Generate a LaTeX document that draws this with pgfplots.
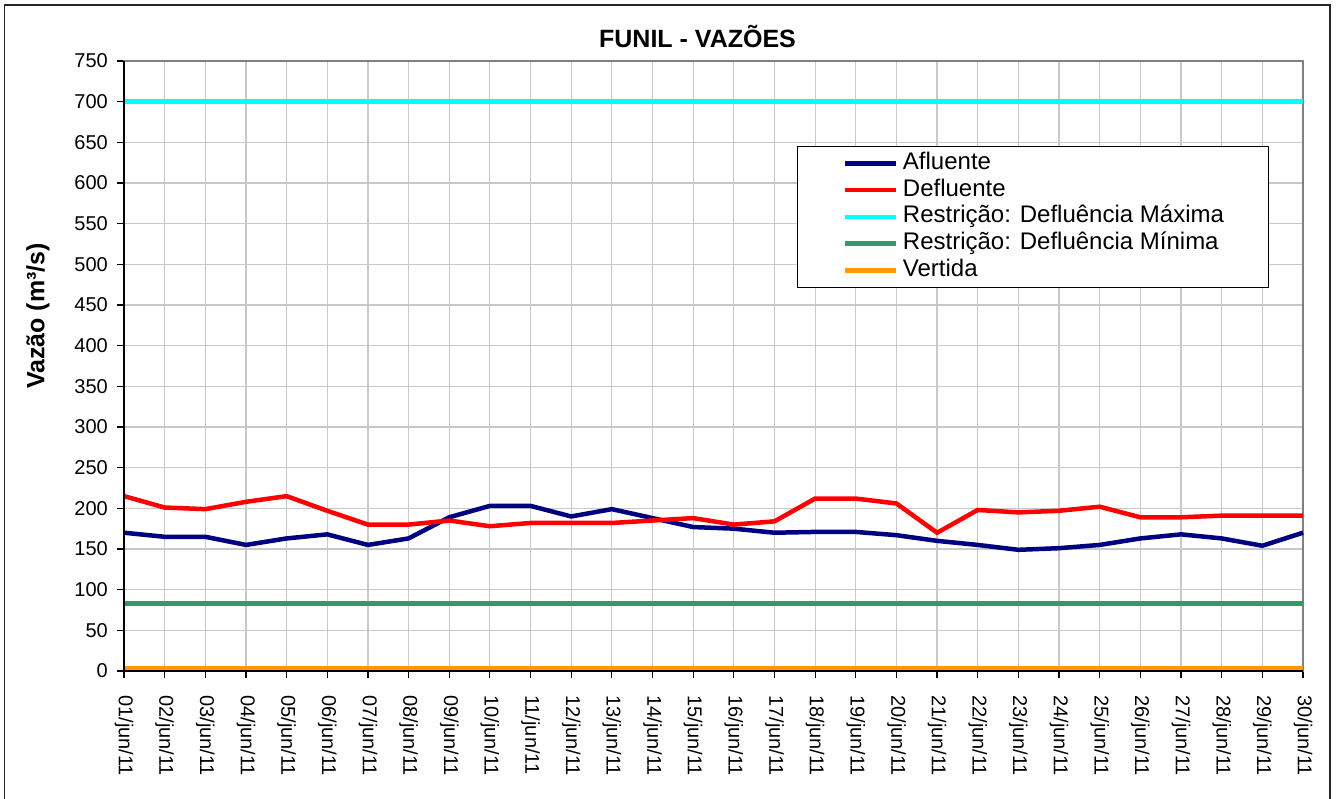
\documentclass[border=0pt]{standalone}
\usepackage{pgfplots}
\pgfplotsset{compat=1.18}
\usepackage{pgfplotstable}
\usepackage{fontspec}
\setmainfont{Liberation Sans}
\definecolor{afl}{HTML}{000080}
\definecolor{defl}{HTML}{FF0000}
\definecolor{rmax}{HTML}{00FFFF}
\definecolor{rmin}{HTML}{339966}
\definecolor{vert}{HTML}{FF9900}
\definecolor{gridc}{HTML}{C8C8C8}

\pgfplotstableread{
d afl def
1 170 215
2 165 201
3 165 199
4 155 208
5 163 215
6 168 197
7 155 180
8 163 180
9 189 185
10 203 178
11 203 182
12 190 182
13 199 182
14 188 185
15 177 188
16 175 180
17 170 184
18 171 212
19 171 212
20 167 206
21 160 170
22 155 198
23 149 195
24 151 197
25 155 202
26 163 189
27 168 189
28 163 191
29 154 191
30 170 191
}\flowdata

\begin{document}
\begin{tikzpicture}
\useasboundingbox (0pt,0pt) rectangle (1338pt,798pt);
\begin{scope}
\clip (0pt,0pt) rectangle (1338pt,798pt);
\draw[line width=1.5pt, black!85] (4.5pt,-20pt) rectangle (1330pt,793pt);
\end{scope}
\node[font=\bfseries\fontsize{25}{25}\selectfont] at (697.5pt,761.5pt) {FUNIL - VAZÕES};
\node[rotate=90, font=\bfseries\fontsize{25}{25}\selectfont] at (38pt,482pt) {Vazão (m³/s)};
\begin{axis}[
  at={(124pt,127pt)}, anchor=south west,
  scale only axis, width=1179pt, height=610pt,
  xmin=1, xmax=30, ymin=0, ymax=750,
  xtick={1,...,30},
  xticklabels={01/jun/11,02/jun/11,03/jun/11,04/jun/11,05/jun/11,06/jun/11,07/jun/11,08/jun/11,09/jun/11,10/jun/11,11/jun/11,12/jun/11,13/jun/11,14/jun/11,15/jun/11,16/jun/11,17/jun/11,18/jun/11,19/jun/11,20/jun/11,21/jun/11,22/jun/11,23/jun/11,24/jun/11,25/jun/11,26/jun/11,27/jun/11,28/jun/11,29/jun/11,30/jun/11},
  ytick distance=50,
  xtick pos=bottom, ytick pos=left,
  tick align=outside,
  major tick length=7pt,
  tick style={black, line width=1.2pt},
  xticklabel shift=17pt,
  xticklabel style={rotate=-90, anchor=west, inner sep=0pt, font=\fontsize{20}{20}\selectfont},
  yticklabel style={inner sep=0pt, xshift=-9pt, font=\fontsize{20}{20}\selectfont},
  /pgf/number format/assume math mode=true,
  grid=major,
  major grid style={line width=1.2pt, color=gridc},
  axis line style={draw=gray, line width=1.5pt},
  clip=false,
  legend cell align=left,
  legend image code/.code={\draw[#1] (0pt,0pt) -- (51pt,0pt);},
  legend style={at={(0.5708,0.8607)}, anchor=north west, draw=black, line width=1pt,
    font=\fontsize{24}{24}\selectfont, inner xsep=45pt, inner ysep=5pt,
    column sep=5pt, row sep=2.7pt,
    nodes={inner sep=0pt, text height=18pt, text depth=6pt}},
]
\addplot[afl, line width=4.5pt] table[x=d, y=afl] {\flowdata};
\addlegendentry{Afluente}
\addplot[defl, line width=4.5pt] table[x=d, y=def] {\flowdata};
\addlegendentry{Defluente}
\addplot[rmax, line width=4.5pt] coordinates {(1,700) (30,700)};
\addlegendentry{Restrição: Defluência Máxima}
\addplot[rmin, line width=4.5pt] coordinates {(1,83) (30,83)};
\addlegendentry{Restrição: Defluência Mínima}
\addplot[vert, line width=4.5pt] coordinates {(1,3) (30,3)};
\addlegendentry{Vertida}
\draw[black, line width=1.5pt] (rel axis cs:0,1) -- (rel axis cs:0,0) -- (rel axis cs:1,0);
\end{axis}
\end{tikzpicture}
\end{document}
